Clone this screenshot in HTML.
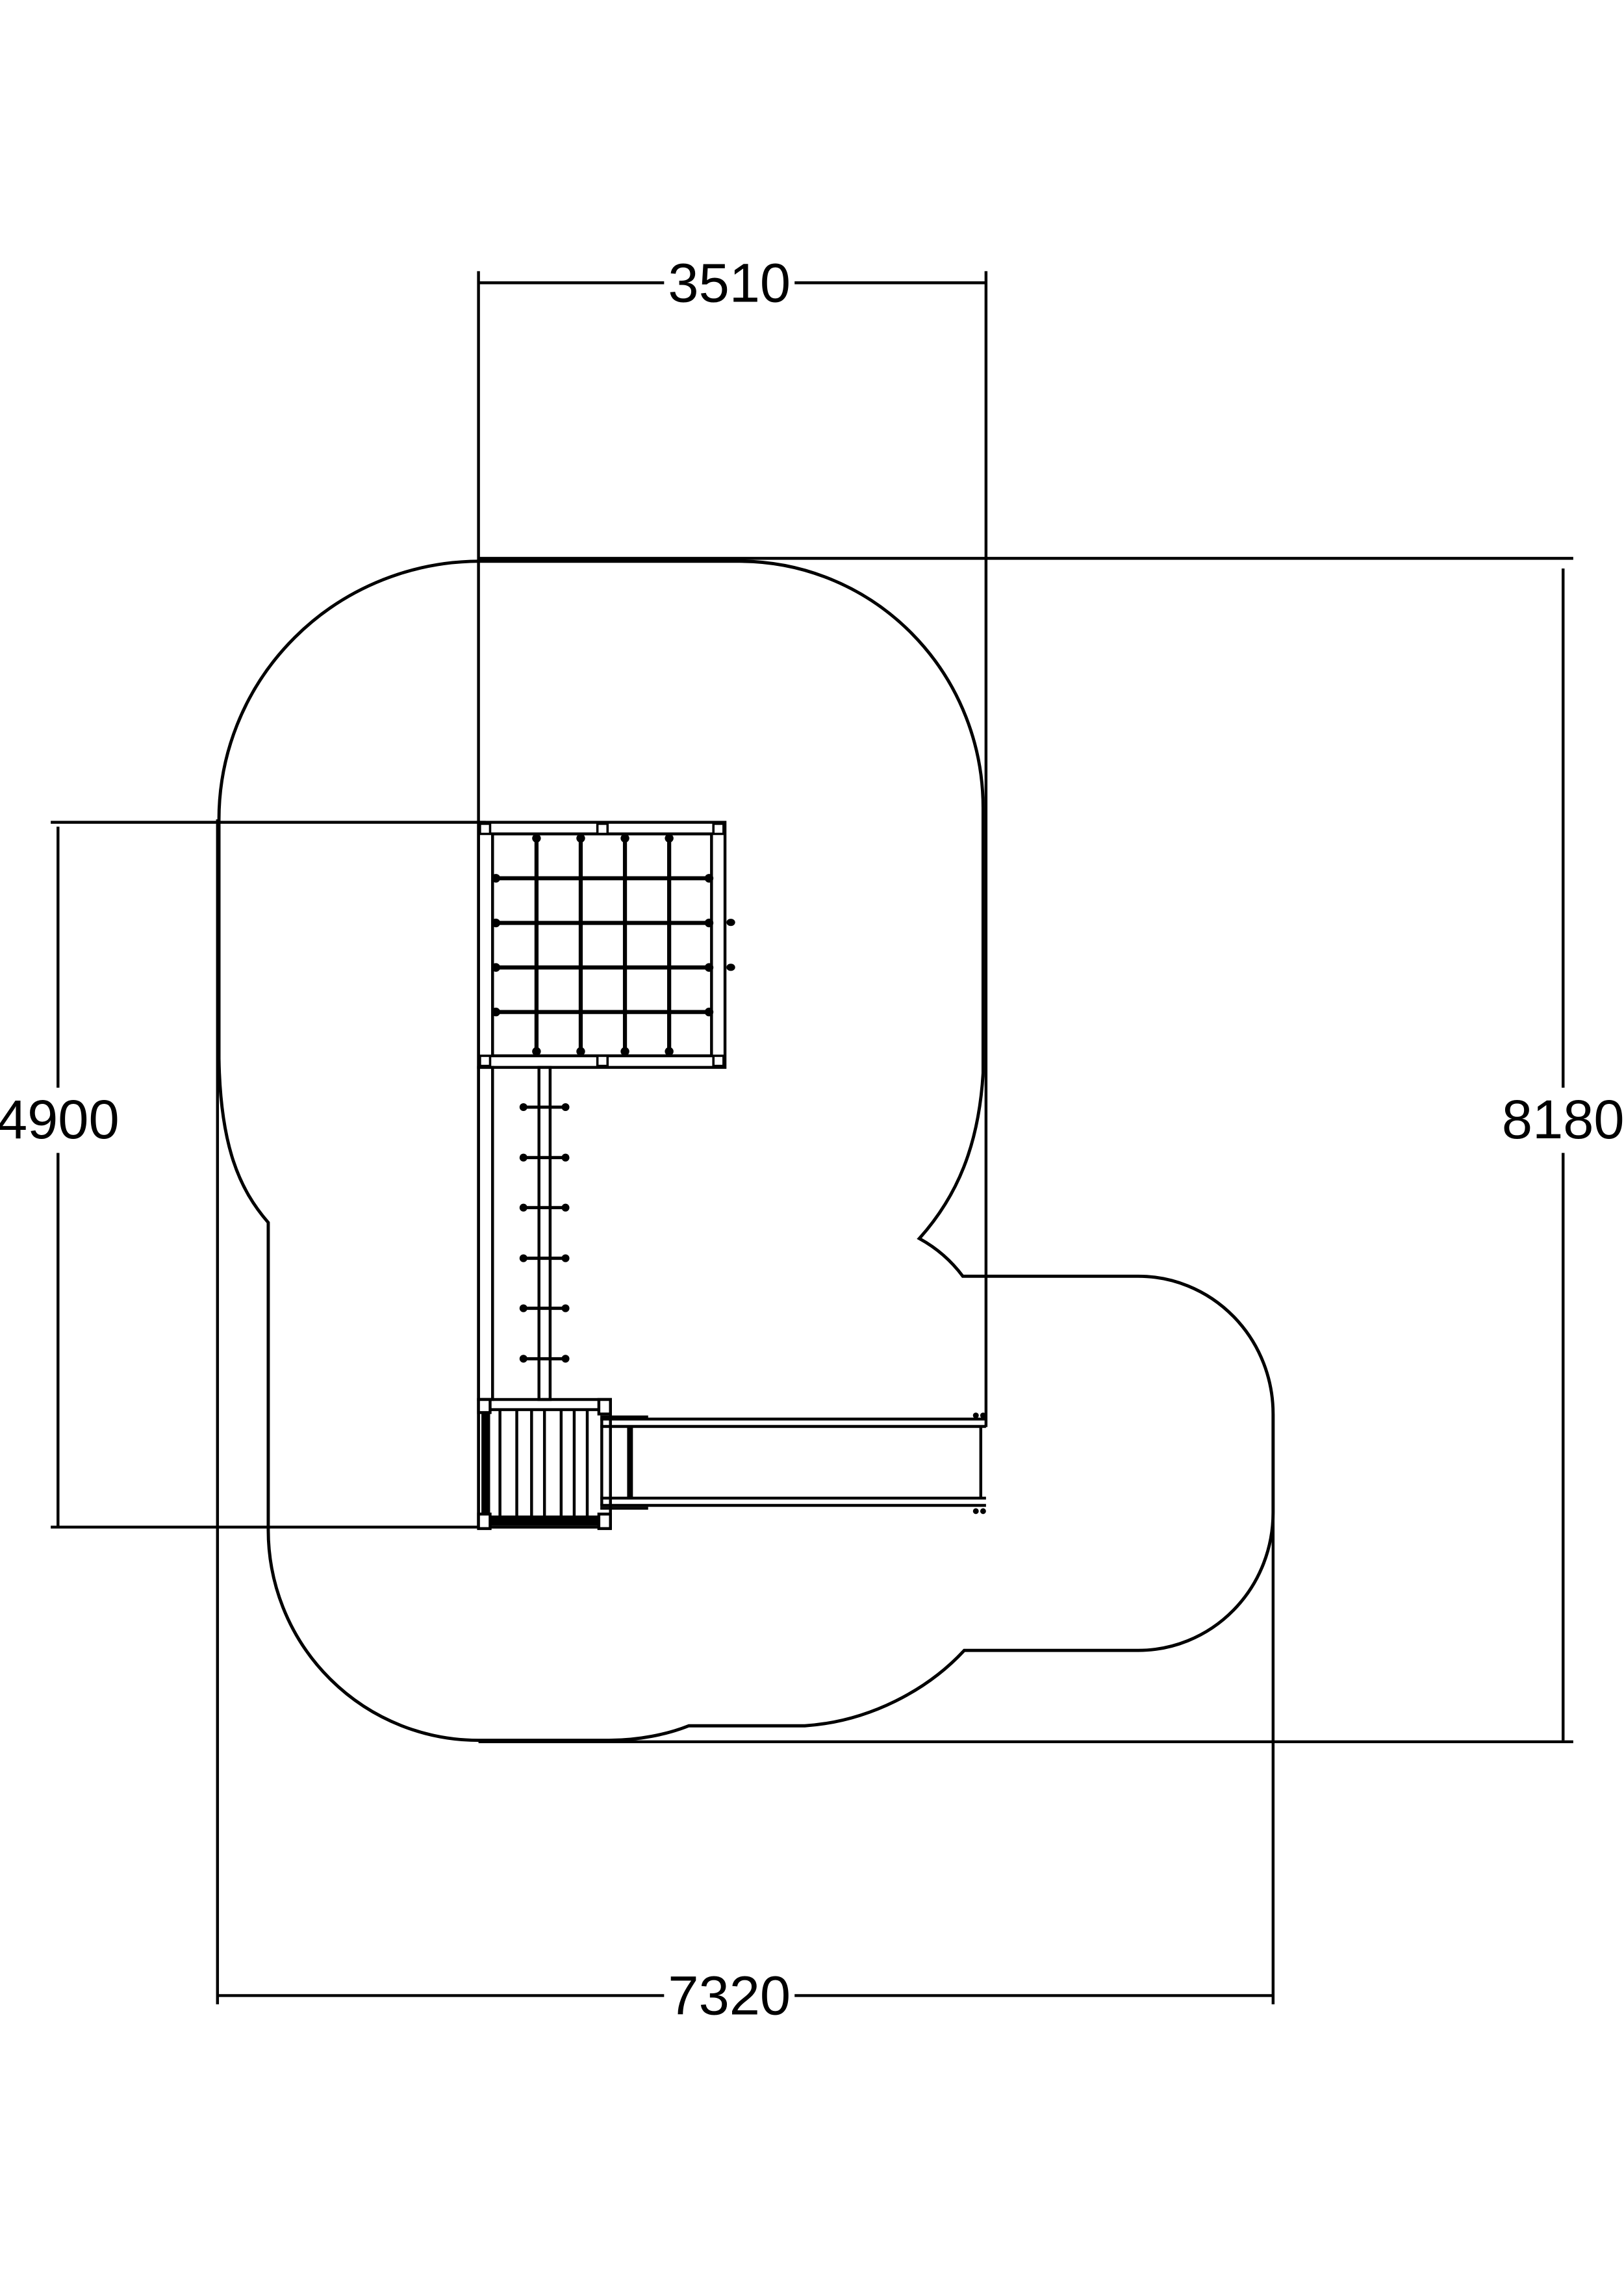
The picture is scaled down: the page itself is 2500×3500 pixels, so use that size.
<!DOCTYPE html>
<html><head><meta charset="utf-8"><style>
html,body{margin:0;padding:0;background:#fff;}
svg{display:block;}
text{font-family:"Liberation Sans",sans-serif;font-size:38px;fill:#000;}
</style></head><body>
<svg width="2500" height="3500" viewBox="0 0 1120 1568" xmlns="http://www.w3.org/2000/svg">
<g fill="none" stroke="#000" stroke-width="2.2">
<path d="M330,387 L510,387 A168,170 0 0 1 678,557 L678,740 C675,790 660,825 634,854 C645,860 655,868 664,880 L785,880 A93,95 0 0 1 878,975 L878,1043 A93,95 0 0 1 785,1138 L665,1138 C640,1165 600,1187 555,1190 L475,1190 C460,1196 440,1200 420,1200 L330,1200 A145,145 0 0 1 185,1055 L185,843 C165,820 152,790 151,730 L151,565 A180,178 0 0 1 330,387 Z"/>
</g>
<g fill="none" stroke="#000" stroke-width="2">
<line x1="330" y1="187" x2="330" y2="1053"/>
<line x1="680" y1="187" x2="680" y2="984"/>
<line x1="330" y1="195" x2="458" y2="195"/>
<line x1="548" y1="195" x2="680" y2="195"/>
<line x1="330" y1="385" x2="1085" y2="385"/>
<line x1="330" y1="1201" x2="1085" y2="1201"/>
<line x1="1078" y1="392" x2="1078" y2="750"/>
<line x1="1078" y1="795" x2="1078" y2="1200"/>
<line x1="35" y1="567" x2="335" y2="567"/>
<line x1="35" y1="1053" x2="335" y2="1053"/>
<line x1="40" y1="570" x2="40" y2="750"/>
<line x1="40" y1="795" x2="40" y2="1053"/>
<line x1="150" y1="565" x2="150" y2="1382"/>
<line x1="878" y1="975" x2="878" y2="1382"/>
<line x1="150" y1="1376" x2="458" y2="1376"/>
<line x1="548" y1="1376" x2="878" y2="1376"/>
</g>
<text x="503" y="208" text-anchor="middle">3510</text>
<text x="1078" y="785" text-anchor="middle">8180</text>
<text x="40" y="785" text-anchor="middle">4900</text>
<text x="503" y="1389" text-anchor="middle">7320</text>

<g fill="none" stroke="#000" stroke-width="2">
<rect x="330" y="567" width="170" height="169"/>
<rect x="339.7" y="575" width="151" height="153"/>
</g>
<g stroke="#000" stroke-width="2.8">
<line x1="370" y1="575" x2="370" y2="728"/>
<line x1="400.5" y1="575" x2="400.5" y2="728"/>
<line x1="431" y1="575" x2="431" y2="728"/>
<line x1="461.5" y1="575" x2="461.5" y2="728"/>
<line x1="340" y1="605.6" x2="491" y2="605.6"/>
<line x1="340" y1="636.4" x2="491" y2="636.4"/>
<line x1="340" y1="667.1" x2="491" y2="667.1"/>
<line x1="340" y1="697.8" x2="491" y2="697.8"/>
</g>
<g fill="#000">
<circle cx="370" cy="578" r="3"/><circle cx="400.5" cy="578" r="3"/><circle cx="431" cy="578" r="3"/><circle cx="461.5" cy="578" r="3"/>
<circle cx="370" cy="725" r="3"/><circle cx="400.5" cy="725" r="3"/><circle cx="431" cy="725" r="3"/><circle cx="461.5" cy="725" r="3"/>
<circle cx="342" cy="605.6" r="3"/><circle cx="342" cy="636.4" r="3"/><circle cx="342" cy="667.1" r="3"/><circle cx="342" cy="697.8" r="3"/>
<circle cx="489" cy="605.6" r="3"/><circle cx="489" cy="636.4" r="3"/><circle cx="489" cy="667.1" r="3"/><circle cx="489" cy="697.8" r="3"/>
<ellipse cx="504" cy="636" rx="3" ry="2.5"/><ellipse cx="504" cy="667" rx="3" ry="2.5"/>
</g>
<g fill="#fff" stroke="#000" stroke-width="1.6">
<rect x="331" y="568" width="7" height="7"/><rect x="412" y="568" width="7" height="7"/><rect x="492" y="568" width="7" height="7"/>
<rect x="331" y="728" width="7" height="7"/><rect x="412" y="728" width="7" height="7"/><rect x="492" y="728" width="7" height="7"/>
</g>
<g fill="none" stroke="#000" stroke-width="2">
<rect x="330" y="736" width="9.7" height="229"/>
<rect x="371.7" y="736" width="7.7" height="229"/>
</g>
<g stroke="#000" stroke-width="2.2">
<line x1="360" y1="763.4" x2="391" y2="763.4"/><line x1="360" y1="798.2" x2="391" y2="798.2"/><line x1="360" y1="832.7" x2="391" y2="832.7"/>
<line x1="360" y1="867.6" x2="391" y2="867.6"/><line x1="360" y1="902.1" x2="391" y2="902.1"/><line x1="360" y1="936.9" x2="391" y2="936.9"/>
</g>
<g fill="#000">
<circle cx="361" cy="763.4" r="2.7"/><circle cx="390" cy="763.4" r="2.7"/><circle cx="361" cy="798.2" r="2.7"/><circle cx="390" cy="798.2" r="2.7"/>
<circle cx="361" cy="832.7" r="2.7"/><circle cx="390" cy="832.7" r="2.7"/><circle cx="361" cy="867.6" r="2.7"/><circle cx="390" cy="867.6" r="2.7"/>
<circle cx="361" cy="902.1" r="2.7"/><circle cx="390" cy="902.1" r="2.7"/><circle cx="361" cy="936.9" r="2.7"/><circle cx="390" cy="936.9" r="2.7"/>
</g>
<g fill="none" stroke="#000" stroke-width="2">
<rect x="330" y="965" width="91" height="88"/>
<line x1="330" y1="972" x2="421" y2="972"/>
</g>
<rect x="331" y="1045" width="89" height="7" fill="#000"/>
<rect x="332" y="972" width="6" height="76" fill="#000"/>
<g stroke="#000" stroke-width="2">
<line x1="344.8" y1="972" x2="344.8" y2="1046"/><line x1="356.4" y1="972" x2="356.4" y2="1046"/><line x1="366.6" y1="972" x2="366.6" y2="1046"/>
<line x1="375.5" y1="972" x2="375.5" y2="1046"/><line x1="387" y1="972" x2="387" y2="1046"/><line x1="396" y1="972" x2="396" y2="1046"/>
<line x1="405" y1="972" x2="405" y2="1046"/>
</g>
<g fill="#fff" stroke="#000" stroke-width="2">
<rect x="330" y="965" width="8" height="9"/><rect x="413" y="965" width="8" height="10"/>
<rect x="330" y="1044" width="8" height="10"/><rect x="413" y="1044" width="8" height="10"/>
</g>
<g fill="none" stroke="#000" stroke-width="2">
<line x1="414" y1="978.5" x2="680" y2="978.5"/>
<line x1="414" y1="983.6" x2="680" y2="983.6"/>
<line x1="414" y1="1033" x2="680" y2="1033"/>
<line x1="414" y1="1038" x2="680" y2="1038"/>
<line x1="676.4" y1="983.6" x2="676.4" y2="1033"/>
<line x1="415" y1="978" x2="415" y2="1038"/>
<line x1="447" y1="977" x2="414" y2="977"/>
<line x1="447" y1="1040" x2="414" y2="1040"/>
</g>
<rect x="432.5" y="983" width="4" height="51" fill="#000"/>
<g fill="#000">
<circle cx="673" cy="976" r="2"/><circle cx="678" cy="976" r="2"/>
<circle cx="673" cy="1042" r="2"/><circle cx="678" cy="1042" r="2"/>
</g>
</svg>
</body></html>
